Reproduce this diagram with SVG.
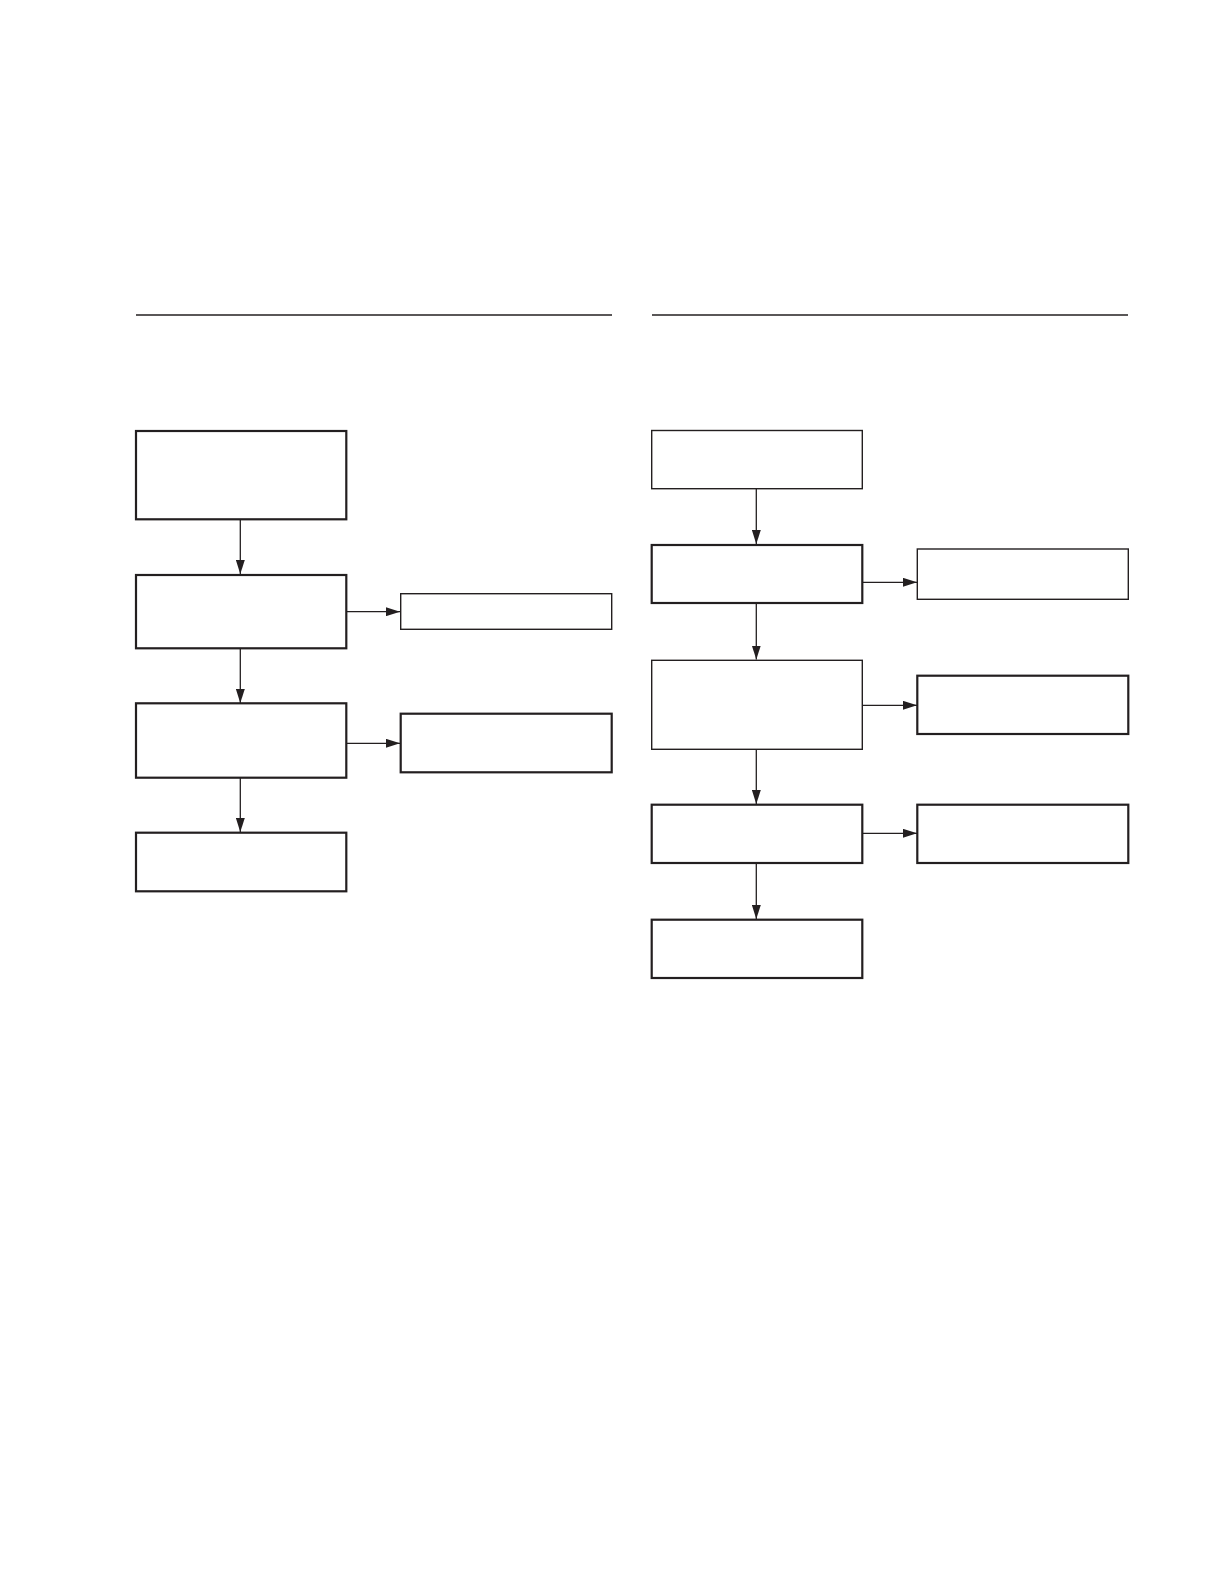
<svg xmlns="http://www.w3.org/2000/svg" width="1219" height="1587" viewBox="0 0 1219 1587">
<style>
.n{fill:#fff;stroke:#231f20}
.t{stroke-width:2.2}
.s{stroke-width:1.4}
.c{stroke:#231f20;stroke-width:1.3;fill:none;marker-end:url(#ah)}
.r{stroke:#231f20;stroke-width:1.3}
</style>
<defs>
<marker id="ah" markerUnits="userSpaceOnUse" markerWidth="14" markerHeight="9" refX="14" refY="4.5" orient="auto">
<path d="M0,0 L14,4.5 L0,9 Z" fill="#231f20"/>
</marker>
</defs>
<rect width="1219" height="1587" fill="#fff"/>
<g id="rules">
<line class="r" x1="136" y1="315" x2="612" y2="315"/>
<line class="r" x1="652" y1="315" x2="1128" y2="315"/>
</g>
<g id="connectors">
<line class="c" x1="240.3" y1="520" x2="240.3" y2="574"/>
<line class="c" x1="240.3" y1="649" x2="240.3" y2="703"/>
<line class="c" x1="240.3" y1="778" x2="240.3" y2="832"/>
<line class="c" x1="347" y1="611.7" x2="400" y2="611.7"/>
<line class="c" x1="347" y1="743.3" x2="400" y2="743.3"/>
<line class="c" x1="756.3" y1="489" x2="756.3" y2="544"/>
<line class="c" x1="756.3" y1="604" x2="756.3" y2="659.5"/>
<line class="c" x1="756.3" y1="750" x2="756.3" y2="804"/>
<line class="c" x1="756.3" y1="864" x2="756.3" y2="919"/>
<line class="c" x1="863" y1="582.3" x2="917" y2="582.3"/>
<line class="c" x1="863" y1="705.3" x2="917" y2="705.3"/>
<line class="c" x1="863" y1="833.3" x2="917" y2="833.3"/>
</g>
<g id="L1"><rect class="n t" x="136" y="431" width="210.3" height="88.3"/></g>
<g id="L2"><rect class="n t" x="136" y="575" width="210.3" height="73.3"/></g>
<g id="L3"><rect class="n t" x="136" y="703.3" width="210.3" height="74.4"/></g>
<g id="L4"><rect class="n t" x="136" y="832.7" width="210.3" height="58.6"/></g>
<g id="LA"><rect class="n s" x="400.7" y="593.7" width="211" height="35.6"/></g>
<g id="LB"><rect class="n t" x="400.7" y="713.7" width="211" height="58.6"/></g>
<g id="R1"><rect class="n s" x="651.7" y="430.5" width="210.6" height="58.2"/></g>
<g id="R2"><rect class="n t" x="651.7" y="545" width="210.6" height="58"/></g>
<g id="R3"><rect class="n s" x="651.7" y="660.3" width="210.6" height="89"/></g>
<g id="R4"><rect class="n t" x="651.7" y="804.7" width="210.6" height="58.3"/></g>
<g id="R5"><rect class="n t" x="651.7" y="919.7" width="210.6" height="58.3"/></g>
<g id="RA"><rect class="n s" x="917.3" y="549" width="211" height="50.3"/></g>
<g id="RB"><rect class="n t" x="917.3" y="675.7" width="211" height="58.3"/></g>
<g id="RC"><rect class="n t" x="917.3" y="804.7" width="211" height="58.3"/></g>
</svg>
